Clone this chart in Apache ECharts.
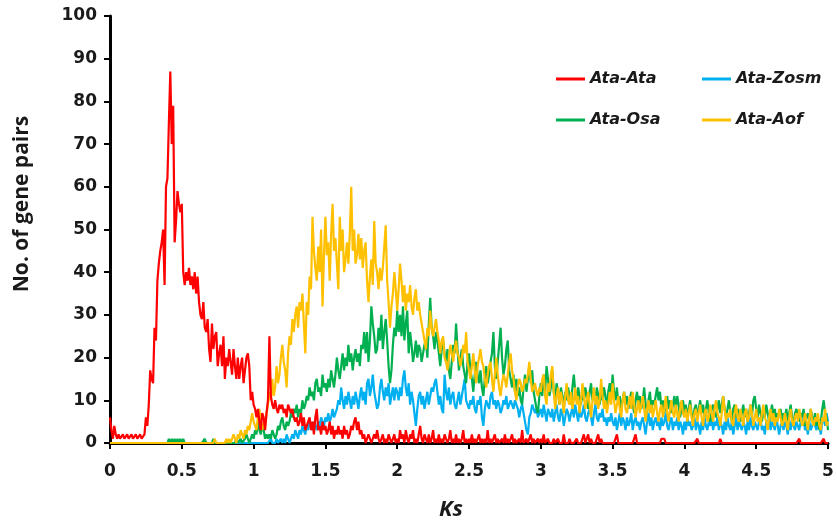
<!DOCTYPE html>
<html>
<head>
<meta charset="utf-8">
<script src="https://cdn.jsdelivr.net/npm/echarts@6/dist/echarts.min.js"></script>
<style>
  html, body { margin: 0; padding: 0; background: #fff; }
  #chart { width: 837px; height: 527px; }
</style>
</head>
<body>
<div id="chart"></div>
<script>
// Ks distribution of paralogous / orthologous gene pairs, bins of 0.01 from 0 to 5
const seriesNames = ['Ata-Ata', 'Ata-Zosm', 'Ata-Osa', 'Ata-Aof'];
const xTicks = ['0', '0.5', '1', '1.5', '2', '2.5', '3', '3.5', '4', '4.5', '5'];
const yTicks = ['0', '10', '20', '30', '40', '50', '60', '70', '80', '90', '100'];

const ataAta = [
  6,3,1,4,2,1,2,1,1,2,
  1,1,2,1,1,2,1,1,2,1,
  1,2,1,1,2,6,4,9,17,15,
  14,27,24,38,42,45,47,50,37,60,
  62,75,87,70,79,47,52,59,56,54,
  56,40,37,40,38,41,37,39,36,40,
  35,39,33,30,29,33,27,26,29,22,
  19,28,22,25,26,18,21,23,18,25,
  15,20,18,22,19,16,22,18,15,20,
  15,18,20,14,17,20,21,18,10,12,
  9,8,6,8,5,3,7,6,3,7,
  10,25,11,9,8,10,8,7,9,8,
  9,7,8,6,9,8,7,8,6,5,
  6,4,5,7,4,6,3,4,5,6,
  3,5,2,6,8,3,4,2,5,3,
  4,2,3,5,2,4,1,3,2,4,
  2,3,1,4,2,3,1,2,4,3,
  5,6,3,5,2,3,1,2,0,1,
  2,1,0,1,2,1,3,1,0,1,
  2,0,1,0,2,1,0,1,2,0,
  1,0,3,1,2,0,3,1,0,2,
  1,3,0,1,0,2,4,1,0,2,
  1,0,2,0,1,3,0,1,0,2,
  0,1,0,2,1,0,1,3,0,1,
  0,2,0,1,0,1,3,0,1,0,
  1,0,2,0,1,0,0,2,0,1,
  0,1,0,3,0,1,0,0,2,0,
  1,0,0,1,0,2,0,1,0,0,
  2,0,1,0,0,1,0,3,0,0,
  1,0,0,2,0,1,0,0,1,0,
  1,0,2,0,0,1,0,0,0,1,
  0,0,1,0,0,0,2,0,0,0,
  1,0,0,0,0,1,0,0,0,0,
  2,0,0,2,0,1,0,0,0,0,
  2,0,1,0,0,0,0,0,0,0,
  0,0,0,2,0,0,0,0,0,0,
  0,0,0,0,0,0,2,0,0,0,
  0,0,0,0,0,0,0,0,0,0,
  0,0,0,0,1,1,1,0,0,0,
  0,0,0,0,0,0,0,0,0,0,
  0,0,0,0,0,0,0,0,0,1,
  0,0,0,0,0,0,0,0,0,0,
  0,0,0,0,0,1,0,0,0,0,
  0,0,0,0,0,0,0,0,0,0,
  0,0,0,0,0,0,0,0,0,0,
  0,0,0,0,0,0,0,0,0,0,
  0,0,0,0,0,0,0,0,0,0,
  0,0,0,0,0,0,0,0,0,0,
  1,0,0,0,0,0,0,0,0,0,
  0,0,0,0,0,0,0,1,0,0,
  0
];

const ataZosm = [
  0,0,0,0,0,0,0,0,0,0,
  0,0,0,0,0,0,0,0,0,0,
  0,0,0,0,0,0,0,0,0,0,
  0,0,0,0,0,0,0,0,0,0,
  0,0,0,0,0,0,0,0,0,0,
  0,0,0,0,0,0,0,0,0,0,
  0,0,0,0,0,0,0,0,0,0,
  0,0,0,0,0,0,0,0,0,0,
  0,0,0,0,0,0,0,0,0,0,
  0,0,0,0,0,0,0,0,0,0,
  0,0,0,0,0,0,0,0,0,0,
  0,0,1,0,0,0,1,0,0,1,
  0,1,0,2,1,0,1,2,1,3,
  2,1,3,2,4,3,2,4,3,5,
  4,3,5,4,3,5,4,6,5,4,
  6,5,7,5,6,8,6,7,8,10,
  9,13,10,8,11,9,12,10,8,11,
  9,12,10,8,11,13,10,12,9,14,
  15,11,13,16,12,10,8,9,13,15,
  12,10,13,11,14,9,11,13,10,13,
  12,10,13,11,15,17,13,11,14,9,
  12,10,7,4,8,11,12,9,11,8,
  10,12,9,11,13,12,14,15,12,9,
  11,8,7,16,12,10,13,9,11,12,
  9,8,10,12,9,11,13,15,10,9,
  8,10,9,11,8,7,10,9,11,6,
  4,8,10,9,8,11,12,9,10,8,
  10,9,7,8,10,9,11,8,9,10,
  9,8,10,9,8,6,8,9,7,5,
  3,2,6,7,9,8,7,8,6,7,
  8,6,9,7,5,8,7,6,8,5,
  7,9,6,5,8,7,4,6,8,7,
  5,7,8,6,9,7,5,8,6,7,
  9,6,5,7,8,6,4,7,9,6,
  5,7,6,8,5,6,4,6,5,7,
  5,4,6,3,5,7,4,6,5,3,
  6,4,5,7,3,5,6,4,5,3,
  5,6,4,2,5,7,4,6,3,5,
  6,4,5,3,6,4,5,7,4,3,
  5,6,3,5,4,6,3,5,4,2,
  5,3,6,4,5,3,4,6,3,5,
  4,2,5,3,6,4,3,5,4,6,
  3,5,4,6,3,5,4,2,5,3,
  6,4,3,5,2,4,6,3,5,4,
  3,5,4,2,5,3,6,4,3,5,
  4,3,5,6,3,4,2,5,4,6,
  3,5,4,3,6,4,2,4,5,3,
  5,4,2,5,3,6,4,3,5,4,
  3,5,4,6,3,4,2,5,3,4,
  6,4,3,5,4,2,5,6,4,7,
  5
];

const ataOsa = [
  0,0,0,0,0,0,0,0,0,0,
  0,0,0,0,0,0,0,0,0,0,
  0,0,0,0,0,0,0,0,0,0,
  0,0,0,0,0,0,0,0,0,0,
  0,1,0,1,0,1,0,1,0,1,
  0,1,0,0,0,0,0,0,0,0,
  0,0,0,0,0,0,1,0,0,0,
  0,0,1,0,0,0,0,0,0,0,
  0,0,0,0,0,0,0,0,1,0,
  0,1,0,0,1,2,1,0,1,2,
  1,3,2,5,3,2,4,3,1,2,
  1,2,1,3,2,1,2,4,3,5,
  6,4,3,5,4,5,7,6,8,7,
  9,6,8,7,10,8,9,11,10,13,
  11,12,10,14,15,12,13,11,16,13,
  14,12,15,13,17,15,13,16,20,17,
  15,18,21,17,20,18,23,19,21,17,
  20,22,19,21,18,23,22,26,21,26,
  19,24,32,28,25,21,22,27,24,30,
  22,26,29,24,18,14,17,23,27,25,
  31,26,30,25,32,24,28,31,21,26,
  23,19,21,24,20,23,22,19,21,23,
  24,20,28,34,27,25,22,26,24,21,
  18,22,24,21,19,22,17,15,19,23,
  21,28,22,17,20,22,18,16,14,19,
  21,17,15,12,16,19,16,14,17,13,
  11,15,18,14,16,19,21,26,18,15,
  19,23,27,20,16,18,22,24,17,15,
  13,16,12,15,11,13,10,9,13,16,
  12,15,18,14,17,12,10,8,7,11,
  14,11,16,12,18,15,11,13,17,12,
  10,14,12,9,13,11,8,12,10,13,
  11,9,13,16,12,10,13,11,9,12,
  10,13,11,8,12,14,10,12,9,13,
  11,9,12,10,13,11,8,12,14,11,
  16,12,10,13,9,11,8,10,12,9,
  11,8,10,12,9,7,10,12,9,11,
  8,10,13,9,7,10,12,8,10,9,
  11,13,10,12,8,10,7,9,11,8,
  10,7,9,11,8,11,9,6,8,10,
  7,9,6,8,10,7,5,8,9,6,
  8,10,7,9,6,8,10,7,5,8,
  9,7,6,8,10,7,9,11,8,6,
  8,10,7,5,8,9,6,8,7,5,
  7,9,6,8,5,7,9,6,10,11,
  8,6,9,7,5,8,6,9,7,5,
  7,9,6,8,5,7,6,8,5,7,
  6,8,5,7,9,6,4,7,8,6,
  5,7,6,8,4,6,7,5,8,6,
  5,7,4,6,3,5,8,10,7,6,
  3
];

const ataAof = [
  0,0,0,0,0,0,0,0,0,0,
  0,0,0,0,0,0,0,0,0,0,
  0,0,0,0,0,0,0,0,0,0,
  0,0,0,0,0,0,0,0,0,0,
  0,0,0,0,0,0,0,0,0,0,
  0,0,0,0,0,0,0,0,0,0,
  0,0,0,0,0,0,0,0,0,0,
  0,0,0,1,0,0,0,0,0,0,
  0,1,0,1,0,1,2,1,0,2,
  1,3,2,1,3,2,4,3,5,7,
  5,4,3,6,8,5,3,5,4,7,
  9,12,10,15,11,13,18,14,16,20,
  23,19,17,13,21,25,23,29,26,30,
  32,27,33,31,35,28,21,33,30,39,
  36,53,45,41,38,46,40,50,32,44,
  53,44,47,38,49,56,45,48,42,36,
  53,45,50,40,43,47,42,49,60,45,
  50,42,44,49,43,48,41,45,47,38,
  33,39,43,37,52,42,40,36,41,38,
  41,46,51,38,33,27,32,35,40,36,
  31,36,42,38,33,37,31,35,33,37,
  32,30,34,36,31,33,30,28,26,24,
  22,27,25,31,27,25,27,29,26,24,
  21,24,25,20,19,17,20,23,21,19,
  22,24,21,20,18,20,23,21,26,19,
  17,15,18,21,17,14,18,20,22,19,
  18,15,13,16,18,19,15,12,16,20,
  16,13,11,14,16,15,13,16,19,21,
  17,15,12,10,13,15,14,12,13,15,
  14,16,19,15,12,13,14,12,11,13,
  12,15,16,11,9,14,12,16,18,12,
  8,11,13,9,12,10,7,11,14,10,
  9,12,8,10,13,9,11,7,10,14,
  11,8,10,12,9,6,10,13,9,11,
  8,10,15,11,8,10,7,9,12,9,
  14,10,7,9,11,8,6,10,12,8,
  7,9,11,8,12,9,6,8,10,7,
  9,11,8,5,8,10,7,9,6,8,
  10,7,5,8,9,6,8,11,7,5,
  8,10,7,6,9,7,5,8,10,7,
  6,8,5,7,9,6,4,7,8,5,
  7,9,6,4,7,8,5,6,9,7,
  5,8,10,7,6,4,7,11,8,5,
  7,6,8,5,4,7,9,6,5,8,
  6,4,7,8,5,6,9,7,4,6,
  8,5,6,4,7,9,6,5,3,6,
  8,5,7,4,6,5,8,6,4,5,
  7,5,3,6,8,5,4,6,7,5,
  8,6,4,5,7,5,3,6,8,5,
  4,6,5,7,4,3,6,5,8,4,
  5
];

// bin centres on the Ks axis (one per value, step 0.01)
const ks = ataAta.map((_, i) => i / 100);
const pairs = vals => vals.map((v, i) => [ks[i], v]);

const colors = {
  'Ata-Ata': '#FF0000',
  'Ata-Zosm': '#00B0F0',
  'Ata-Osa': '#00B050',
  'Ata-Aof': '#FFC000'
};

const chart = echarts.init(document.getElementById('chart'), null, { renderer: 'canvas' });

const axisLine = { show: true, lineStyle: { color: '#000', width: 3 } };
const axisTick = { show: true, inside: false, length: 6, lineStyle: { color: '#000', width: 2 } };
const tickFont = { fontFamily: 'DejaVu Sans', fontWeight: 'bold', fontSize: 17, color: '#1a1a1a' };

const legendText = { fontFamily: 'DejaVu Sans', fontWeight: 'bold', fontStyle: 'italic', fontSize: 16, color: '#1a1a1a' };
const mkLegend = (name, left, top) => ({
  data: [{ name, icon: 'rect' }], left, top, orient: 'horizontal',
  padding: 0,
  itemWidth: 29, itemHeight: 3, itemGap: 8,
  textStyle: legendText,
  selectedMode: false
});

const lineSeries = (name, vals) => ({
  name, type: 'line', data: pairs(vals),
  symbol: 'none', showSymbol: false, sampling: null,
  lineStyle: { color: colors[name], width: 2.2 },
  itemStyle: { color: colors[name] },
  animation: false
});

chart.setOption({
  backgroundColor: '#fff',
  animation: false,
  grid: { left: 110, right: 9, top: 16, bottom: 84, containLabel: false },
  legend: [
    mkLegend('Ata-Ata', 556, 71),
    mkLegend('Ata-Zosm', 702, 71),
    mkLegend('Ata-Osa', 556, 112),
    mkLegend('Ata-Aof', 702, 112)
  ],
  xAxis: {
    type: 'value', min: 0, max: 5, interval: 0.5,
    axisLine, axisTick, splitLine: { show: false },
    axisLabel: Object.assign({ margin: 20, formatter: (v) => xTicks[Math.round(v * 2)] }, tickFont)
  },
  yAxis: {
    type: 'value', min: 0, max: 100, interval: 10,
    axisLine, axisTick, splitLine: { show: false },
    axisLabel: Object.assign({ margin: 13, formatter: (v) => yTicks[Math.round(v / 10)] }, tickFont)
  },
  graphic: [
    {
      type: 'text', x: 22, y: 204, rotation: Math.PI / 2,
      style: {
        text: 'No. of gene pairs', fill: '#1a1a1a',
        font: 'bold 21px "Open Sans"', textAlign: 'center', textVerticalAlign: 'middle'
      }
    },
    {
      type: 'text', x: 451, y: 510,
      style: {
        text: 'Ks', fill: '#1a1a1a',
        font: 'italic bold 22px "Open Sans"', textAlign: 'center', textVerticalAlign: 'middle'
      }
    }
  ],
  series: [
    lineSeries('Ata-Zosm', ataZosm),
    lineSeries('Ata-Osa', ataOsa),
    lineSeries('Ata-Aof', ataAof),
    lineSeries('Ata-Ata', ataAta)
  ]
});
</script>
</body>
</html>
